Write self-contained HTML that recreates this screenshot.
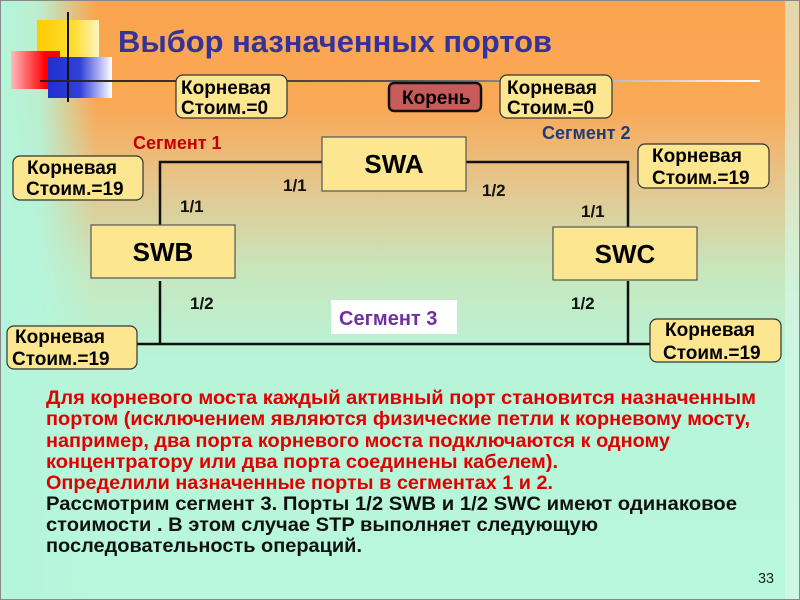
<!DOCTYPE html>
<html><head><meta charset="utf-8"><style>
html,body{margin:0;padding:0;width:800px;height:600px;overflow:hidden}
svg{display:block}
text{font-family:"Liberation Sans",Arial,sans-serif;font-weight:bold}
</style></head><body>
<svg width="800" height="600" viewBox="0 0 800 600" xmlns="http://www.w3.org/2000/svg">
<defs>
<linearGradient id="bg" x1="0" y1="0" x2="0" y2="1">
<stop offset="0" stop-color="#fba34e"/>
<stop offset="0.18" stop-color="#f9a957"/>
<stop offset="0.3" stop-color="#e6c48a"/>
<stop offset="0.45" stop-color="#c8e6bc"/>
<stop offset="0.6" stop-color="#b8f4d8"/>
<stop offset="1" stop-color="#b8f8dc"/>
</linearGradient>
<linearGradient id="lf" x1="0" y1="0" x2="1" y2="0">
<stop offset="0" stop-color="#b4f6dc" stop-opacity="1"/>
<stop offset="0.05" stop-color="#b4f6dc" stop-opacity="0.9"/>
<stop offset="0.12" stop-color="#b4f6dc" stop-opacity="0"/>
</linearGradient>
<linearGradient id="hl" x1="0" y1="0" x2="1" y2="0">
<stop offset="0" stop-color="#222"/>
<stop offset="0.5" stop-color="#555"/>
<stop offset="1" stop-color="#fff"/>
</linearGradient>
<linearGradient id="rd" x1="0" y1="0" x2="1" y2="0">
<stop offset="0" stop-color="#fbb"/><stop offset="0.7" stop-color="#f00"/>
</linearGradient>
<linearGradient id="bl" x1="0" y1="0" x2="1" y2="0">
<stop offset="0" stop-color="#2030d0"/><stop offset="0.5" stop-color="#3040d8"/><stop offset="1" stop-color="#fff"/>
</linearGradient>
<linearGradient id="yl" x1="0" y1="0" x2="1" y2="0">
<stop offset="0" stop-color="#ffcc00"/><stop offset="0.6" stop-color="#ffdd33"/><stop offset="1" stop-color="#fff6c0"/>
</linearGradient>
</defs>
<rect width="800" height="600" fill="url(#bg)"/>
<rect width="800" height="600" fill="url(#lf)"/>
<rect x="785" y="0" width="15" height="600" fill="#d8f8ea" opacity="0.6"/>
<rect x="0.5" y="0.5" width="799" height="599" fill="none" stroke="#888"/>
<rect x="37" y="20" width="62" height="68" fill="url(#yl)"/>
<rect x="11" y="51" width="49" height="38" fill="url(#rd)"/>
<rect x="48" y="57" width="64" height="41" fill="url(#bl)"/>
<line x1="68" y1="12" x2="68" y2="102" stroke="#111" stroke-width="2"/>
<rect x="40" y="80" width="720" height="2" fill="url(#hl)"/>
<text x="118" y="52" font-size="31" fill="#333399" textLength="434" lengthAdjust="spacingAndGlyphs">Выбор назначенных портов</text>
<g stroke="#111" stroke-width="2.5" fill="none">
<polyline points="322,162 160,162 160,225"/>
<polyline points="466,162 628,162 628,227"/>
<line x1="160" y1="281" x2="160" y2="344"/>
<line x1="628" y1="281" x2="628" y2="344"/>
<line x1="137" y1="344" x2="652" y2="344"/>
</g>
<g fill="#fde690" stroke="#555" stroke-width="1.2">
<rect x="322" y="137" width="144" height="54"/>
<rect x="91" y="225" width="144" height="53"/>
<rect x="553" y="227" width="144" height="53"/>
</g>
<g font-size="26" fill="#000" text-anchor="middle">
<text x="394" y="173">SWA</text>
<text x="163" y="261">SWB</text>
<text x="625" y="263">SWC</text>
</g>
<g fill="#fde690" stroke="#333" stroke-width="1.2">
<rect x="176" y="75" width="111" height="43" rx="7"/>
<rect x="500" y="75" width="112" height="43" rx="7"/>
<rect x="13" y="156" width="130" height="44" rx="7"/>
<rect x="638" y="144" width="131" height="44" rx="7"/>
<rect x="7" y="326" width="130" height="43" rx="7"/>
<rect x="650" y="319" width="131" height="43" rx="7"/>
</g>
<rect x="389" y="83" width="92" height="28" rx="5" fill="#c85a5a" stroke="#111" stroke-width="2.5"/>
<g font-size="19" fill="#000">
<text x="181" y="94">Корневая</text>
<text x="181" y="114">Стоим.=0</text>
<text x="507" y="94">Корневая</text>
<text x="507" y="114">Стоим.=0</text>
<text x="27" y="174">Корневая</text>
<text x="26" y="195">Стоим.=19</text>
<text x="652" y="162">Корневая</text>
<text x="652" y="184">Стоим.=19</text>
<text x="15" y="343">Корневая</text>
<text x="12" y="365">Стоим.=19</text>
<text x="665" y="336">Корневая</text>
<text x="663" y="359">Стоим.=19</text>
<text x="402" y="104">Корень</text>
</g>
<text x="133" y="149" font-size="18" fill="#c00000">Сегмент 1</text>
<text x="542" y="139" font-size="18" fill="#1f3a80">Сегмент 2</text>
<rect x="331" y="300" width="126" height="34" fill="#fff"/>
<text x="339" y="325" font-size="20" fill="#7030a0">Сегмент 3</text>
<g font-size="17" fill="#111">
<text x="283" y="191">1/1</text>
<text x="180" y="212">1/1</text>
<text x="482" y="196">1/2</text>
<text x="581" y="217">1/1</text>
<text x="190" y="309">1/2</text>
<text x="571" y="309">1/2</text>
</g>
<g font-size="19">
<text x="46" y="404" fill="#e00000" textLength="710" lengthAdjust="spacingAndGlyphs">Для корневого моста каждый активный порт становится назначенным</text>
<text x="46" y="425" fill="#e00000" textLength="704" lengthAdjust="spacingAndGlyphs">портом (исключением являются физические петли к корневому мосту,</text>
<text x="46" y="447" fill="#e00000" textLength="624" lengthAdjust="spacingAndGlyphs">например, два порта корневого моста подключаются к одному</text>
<text x="46" y="468" fill="#e00000" textLength="512" lengthAdjust="spacingAndGlyphs">концентратору или два порта соединены кабелем).</text>
<text x="46" y="489" fill="#e00000" textLength="507" lengthAdjust="spacingAndGlyphs">Определили назначенные порты в сегментах 1 и 2.</text>
<text x="46" y="510" fill="#111" textLength="691" lengthAdjust="spacingAndGlyphs">Рассмотрим сегмент 3. Порты 1/2 SWB и 1/2 SWC имеют одинаковое</text>
<text x="46" y="531" fill="#111" textLength="552" lengthAdjust="spacingAndGlyphs">стоимости . В этом случае STP выполняет следующую</text>
<text x="46" y="552" fill="#111" textLength="316" lengthAdjust="spacingAndGlyphs">последовательность операций.</text>
</g>
<text x="758" y="583" font-size="15" style="font-weight:normal" fill="#222" textLength="16" lengthAdjust="spacingAndGlyphs">33</text>
</svg>
</body></html>
